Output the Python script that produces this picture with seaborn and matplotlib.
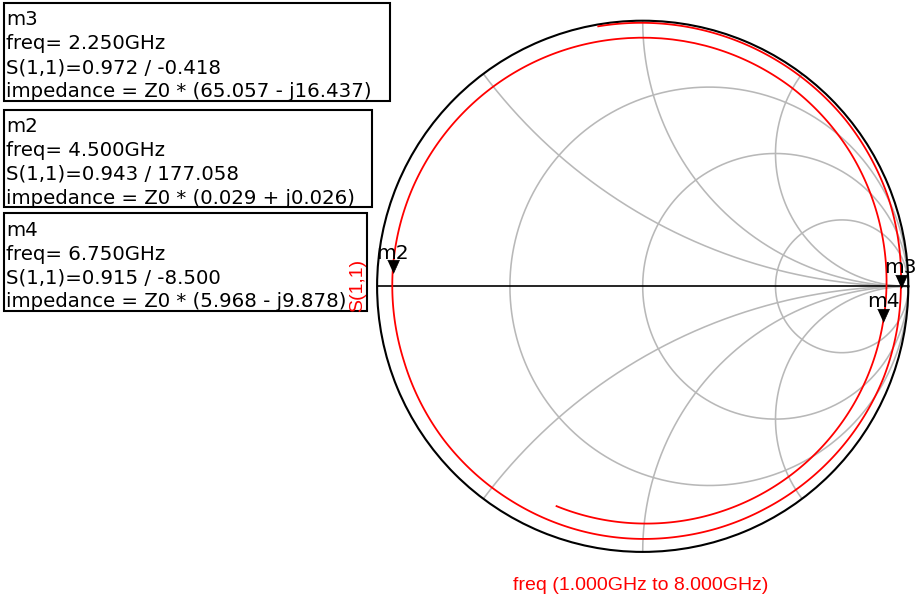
import numpy as np
import pandas as pd
import matplotlib
matplotlib.use("Agg")
import matplotlib.pyplot as plt
from matplotlib.patches import Rectangle
import seaborn as sns

# S(1,1) sweep, 1 GHz to 8 GHz
freq_ghz = [1.00, 1.25, 1.50, 1.75, 2.00, 2.25, 2.50, 2.75, 3.00, 3.25,
            3.50, 3.75, 4.00, 4.25, 4.50, 4.75, 5.00, 5.25, 5.50, 5.75,
            6.00, 6.25, 6.50, 6.75, 7.00, 7.25, 7.50, 7.75, 8.00]
s11_mag = [0.993, 0.991, 0.989, 0.988, 0.983, 0.972, 0.970, 0.963, 0.956, 0.952,
           0.950, 0.947, 0.946, 0.942, 0.943, 0.942, 0.940, 0.938, 0.936, 0.936,
           0.935, 0.930, 0.922, 0.915, 0.910, 0.904, 0.898, 0.893, 0.889]
s11_phase_deg = [99.7, 79.6, 59.5, 39.5, 19.6, -0.418, -20.6, -40.8, -61.0, -81.3,
                 -101.5, -121.8, -142.1, -162.5, -182.942, -203.5, -224.1, -244.7, -265.3, -285.9,
                 -306.5, -327.1, -347.8, -368.5, -389.1, -409.7, -430.3, -450.9, -471.4]

# Markers
marker_names = ["m3", "m2", "m4"]
marker_freq = [2.250, 4.500, 6.750]
marker_mag = [0.972, 0.943, 0.915]
marker_phase = [-0.418, 177.058, -8.500]
marker_z_re = [65.057, 0.029, 5.968]
marker_z_im = [-16.437, 0.026, -9.878]

# Smith chart grid
grid_r = [1/3, 1.0, 3.0]
grid_x = [0.5, 1.0, 2.0]

W, H = 917, 596
fig = plt.figure(figsize=(W / 100, H / 100), dpi=100)
fig.patch.set_facecolor("white")

cx, cy, R = 642.7, 286.3, 265.6
ax = fig.add_axes([(cx - R) / W, (H - cy - R) / H, 2 * R / W, 2 * R / H],
                  projection="polar")
ax.set_facecolor("white")

GRID_COLOR = "#b8b8b8"
GRID_LW = 1.15


def to_polar(g):
    return np.angle(g), np.abs(g)


# constant-resistance circles
for r in grid_r:
    t = np.linspace(-np.pi / 2, np.pi / 2, 1201)[1:-1]
    g = (r - 1 + 1j * np.tan(t)) / (r + 1 + 1j * np.tan(t))
    g = np.concatenate([[1 + 0j], g, [1 + 0j]])
    th, rho = to_polar(g)
    ax.plot(th, rho, color=GRID_COLOR, lw=GRID_LW, zorder=1)

# constant-reactance arcs
for x in grid_x:
    for sgn in (1, -1):
        s = np.linspace(0, np.pi / 2, 900)[:-1]
        z = np.tan(s) + 1j * sgn * x
        g = (z - 1) / (z + 1)
        g = np.concatenate([g, [1 + 0j]])
        th, rho = to_polar(g)
        ax.plot(th, rho, color=GRID_COLOR, lw=GRID_LW, zorder=1)

# real axis
ax.plot([np.pi, 0, 0], [1, 0, 1], color="black", lw=1.2, zorder=2)

# S(1,1) trace
trace = pd.DataFrame({
    "freq": freq_ghz,
    "theta": np.deg2rad(s11_phase_deg),
    "mag": s11_mag,
})
sns.lineplot(data=trace, x="theta", y="mag", sort=False, estimator=None,
             color="#ff0000", lw=1.3, ax=ax, zorder=3)
trace_line = ax.lines[-1]
trace_line.get_path()._interpolation_steps = 40

# marker triangles with the tip on the point
tri = [(-0.45, 1.0), (0.45, 1.0), (0.0, 0.0)]
mk = pd.DataFrame({"theta": np.deg2rad(marker_phase), "mag": marker_mag})
ax.plot(mk["theta"], mk["mag"], linestyle="none", marker=tri, markersize=19,
        color="black", markeredgewidth=0.5, zorder=5, clip_on=False)
for name, th, m in zip(marker_names, mk["theta"], marker_mag):
    ax.annotate(name, xy=(th, m), xytext=(0, 10.6), textcoords="offset points",
                ha="center", va="baseline", fontsize=14.5, color="black",
                family="DejaVu Sans", zorder=6)

ax.set_ylim(0, 1)
ax.grid(False)
ax.set_xticks([])
ax.set_yticks([])
ax.set_xlabel("")
ax.set_ylabel("")
ax.spines["polar"].set_color("black")
ax.spines["polar"].set_linewidth(1.5)

# marker readout boxes
ov = fig.add_axes([0, 0, 1, 1])
ov.set_xlim(0, W)
ov.set_ylim(H, 0)
ov.set_axis_off()

box_tops = [3.0, 109.7, 213.3]
box_rights = [389.5, 372.0, 366.5]
box_h = 97.5
for i in range(len(marker_names)):
    top = box_tops[i]
    ov.add_patch(Rectangle((4.0, top), box_rights[i] - 4.0, box_h, fill=False,
                           edgecolor="black", lw=1.5))
    zi = marker_z_im[i]
    lines = [
        marker_names[i],
        f"freq= {marker_freq[i]:.3f}GHz",
        f"S(1,1)={marker_mag[i]:.3f} / {marker_phase[i]:.3f}",
        f"impedance = Z0 * ({marker_z_re[i]:.3f} {'-' if zi < 0 else '+'} j{abs(zi):.3f})",
    ]
    for k, s in enumerate(lines):
        ov.text(6.5, top + 22.3 + 23.9 * k, s, fontsize=14.2, ha="left",
                va="baseline", color="black", family="DejaVu Sans")

ov.text(358, 285, "S(1,1)", rotation=90, ha="center", va="center",
        fontsize=14, color="#ff0000", family="Liberation Sans")
ov.text(640.5, 590, f"freq ({freq_ghz[0]:.3f}GHz to {freq_ghz[-1]:.3f}GHz)",
        ha="center", va="baseline", fontsize=14, color="#ff0000",
        family="Liberation Sans")

fig.savefig("out.png", dpi=100)
